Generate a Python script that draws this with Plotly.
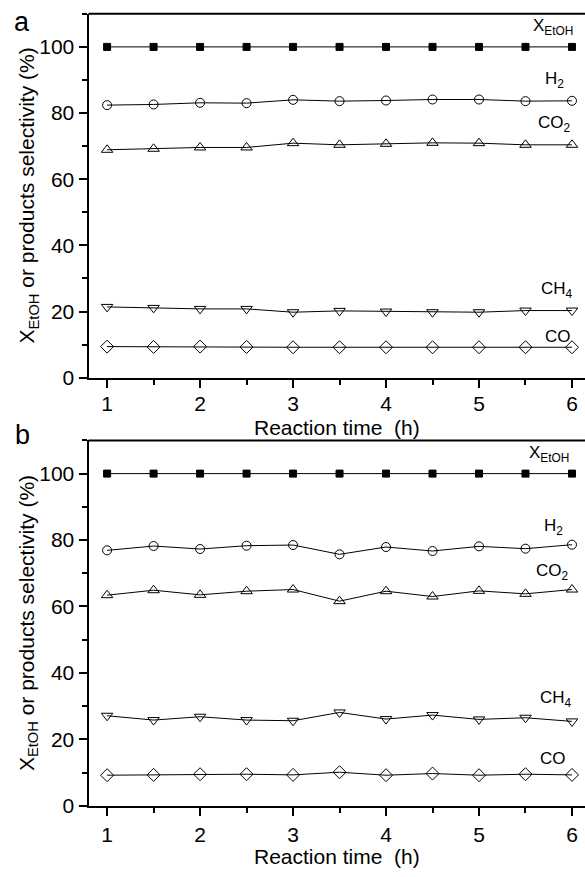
import plotly.graph_objects as go

# ---------------- data ----------------
time_h = [1, 1.5, 2, 2.5, 3, 3.5, 4, 4.5, 5, 5.5, 6]

# panel a
a_xetoh = [100, 100, 100, 100, 100, 100, 100, 100, 100, 100, 100]
a_h2 = [82.4, 82.6, 83.1, 83.0, 84.0, 83.6, 83.8, 84.1, 84.1, 83.6, 83.7]
a_co2 = [68.9, 69.2, 69.6, 69.6, 70.9, 70.4, 70.7, 71.0, 70.9, 70.4, 70.4]
a_ch4 = [21.4, 21.1, 20.8, 20.8, 19.8, 20.2, 20.0, 19.8, 19.8, 20.3, 20.3]
a_co = [9.4, 9.3, 9.4, 9.3, 9.2, 9.2, 9.2, 9.2, 9.2, 9.2, 9.2]

# panel b
b_xetoh = [100, 100, 100, 100, 100, 100, 100, 100, 100, 100, 100]
b_h2 = [76.9, 78.2, 77.3, 78.3, 78.5, 75.7, 77.9, 76.7, 78.1, 77.4, 78.6]
b_co2 = [63.4, 64.9, 63.5, 64.6, 65.1, 61.6, 64.6, 63.0, 64.7, 63.8, 65.1]
b_ch4 = [27.1, 25.8, 26.8, 25.8, 25.6, 28.1, 26.1, 27.3, 26.0, 26.5, 25.4]
b_co = [9.2, 9.3, 9.5, 9.5, 9.3, 10.1, 9.2, 9.7, 9.2, 9.5, 9.3]

x_ticks = [1, 2, 3, 4, 5, 6]
y_ticks = [0, 20, 40, 60, 80, 100]

series_names = ["X<sub>EtOH</sub>", "H<sub>2</sub>", "CO<sub>2</sub>", "CH<sub>4</sub>", "CO"]
# label anchor positions (data coords) per panel
a_label_x = [5.556, 5.685, 5.61, 5.64, 5.685]
a_label_y = [106.1, 90.0, 76.8, 26.4, 12.6]
b_label_x = [5.52, 5.68, 5.595, 5.63, 5.63]
b_label_y = [106.0, 84.0, 70.3, 32.0, 14.2]

FONT = "Liberation Sans, Arial, sans-serif"

markers = [
    dict(symbol="square", size=7, color="black", line=dict(color="black", width=1)),
    dict(symbol="circle-open", size=9, color="black", line=dict(color="black", width=1)),
    dict(symbol="triangle-up-open", size=10, color="black", line=dict(color="black", width=1)),
    dict(symbol="triangle-down-open", size=10, color="black", line=dict(color="black", width=1)),
    dict(symbol="diamond-open", size=10, color="black", line=dict(color="black", width=1)),
]

fig = go.Figure()

panels = [
    ("x", "y", [a_xetoh, a_h2, a_co2, a_ch4, a_co], a_label_x, a_label_y),
    ("x2", "y2", [b_xetoh, b_h2, b_co2, b_ch4, b_co], b_label_x, b_label_y),
]

for xa, ya, series, lx, ly in panels:
    for vals, mk in zip(series, markers):
        fig.add_trace(go.Scatter(
            x=time_h, y=vals, mode="lines+markers",
            line=dict(color="black", width=1),
            marker=mk, xaxis=xa, yaxis=ya, showlegend=False,
        ))
    for name, xx, yy in zip(series_names, lx, ly):
        fig.add_annotation(x=xx, y=yy, xref=xa, yref=ya, text=name,
                           showarrow=False, xanchor="left", yanchor="middle",
                           font=dict(family=FONT, size=17, color="black"))

axis_common = dict(
    showline=True, linewidth=2, linecolor="black",
    ticks="outside", ticklen=8, tickwidth=2, tickcolor="black",
    showgrid=False, zeroline=False,
    tickfont=dict(family=FONT, size=21, color="black"),
)

xdom = [88.5 / 585, 1.0]
top_dom = [1 - 382.5 / 877, 1 - 14 / 877]
bot_dom = [1 - 816 / 877, 1 - 446 / 877]

minor_x = dict(dtick=0.5, tick0=0, ticks="outside", ticklen=5, tickwidth=2, tickcolor="black")
minor_y = dict(dtick=10, tick0=0, ticks="outside", ticklen=5, tickwidth=2, tickcolor="black")

fig.update_layout(
    width=585, height=877,
    margin=dict(l=0, r=0, t=0, b=0),
    paper_bgcolor="white", plot_bgcolor="white",
    xaxis=dict(domain=xdom, anchor="y", range=[0.8, 6.14], tickvals=x_ticks,
               minor=minor_x, ticklabelstandoff=-2, **axis_common),
    yaxis=dict(domain=top_dom, anchor="x", range=[0, 110], tickvals=y_ticks,
               minor=minor_y, ticklabelstandoff=0, **axis_common),
    xaxis2=dict(domain=xdom, anchor="y2", range=[0.8, 6.14], tickvals=x_ticks,
                minor=minor_x, ticklabelstandoff=1, **axis_common),
    yaxis2=dict(domain=bot_dom, anchor="x2", range=[0, 110], tickvals=y_ticks,
                minor=minor_y, ticklabelstandoff=0, **axis_common),
)

# top borders
for xa, ya in [("x", "y"), ("x2", "y2")]:
    fig.add_shape(type="line", xref=f"{xa} domain", yref=f"{ya} domain",
                  x0=0, x1=1, y0=1, y1=1, line=dict(color="black", width=2))

ytitle = "X<sub>EtOH</sub> or products selectivity (%)"
xtitle = "Reaction time\u00a0\u00a0(h)"
for yc in [1 - 198 / 877, 1 - 631 / 877]:
    fig.add_annotation(x=28 / 585, y=yc, xref="paper", yref="paper", text=ytitle,
                       textangle=-90, showarrow=False, xanchor="center", yanchor="middle",
                       font=dict(family=FONT, size=21, color="black"))
for yc in [1 - 433 / 877, 1 - 867.5 / 877]:
    fig.add_annotation(x=(88.5 + 585) / 2 / 585, y=yc, xref="paper", yref="paper", text=xtitle,
                       showarrow=False, xanchor="center", yanchor="middle",
                       font=dict(family=FONT, size=21, color="black"))

for lab, yc in [("a", 1 - 22 / 877), ("b", 1 - 441 / 877)]:
    fig.add_annotation(x=22 / 585, y=yc, xref="paper", yref="paper", text=lab,
                       showarrow=False, xanchor="center", yanchor="middle",
                       font=dict(family=FONT, size=27, color="black"))

fig.write_html("out.html", config={"displayModeBar": False})

# remove the default body margin so the figure fills the window exactly
with open("out.html", "r", encoding="utf-8") as f:
    html = f.read()
html = html.replace("<body>", '<body style="margin:0;padding:0;overflow:hidden">', 1)
with open("out.html", "w", encoding="utf-8") as f:
    f.write(html)
